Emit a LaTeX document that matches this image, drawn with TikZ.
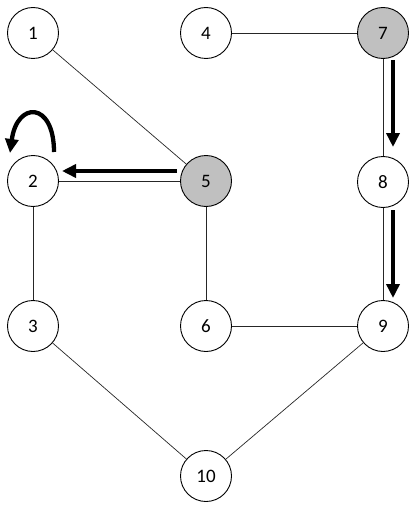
\documentclass[tikz,border=0pt]{standalone}
\usepackage{fontspec}
\setmainfont{Carlito}
\usetikzlibrary{arrows.meta}
\definecolor{shade}{HTML}{C0C0C0}
\tikzset{
  vertex/.style={circle, draw=black, line width=0.9pt, minimum size=51pt, inner sep=0pt, fill=white, font=\fontsize{19}{19}\selectfont},
  marked/.style={vertex, fill=shade},
  link/.style={draw=black!85, line width=0.7pt},
  flow/.style={line width=4.3pt, -{Triangle[length=14pt,width=13pt]}},
}
\begin{document}
\begin{tikzpicture}[x=1pt,y=-1pt]
\useasboundingbox (0,0) rectangle (409,508);
% vertices
\node[vertex] (n1) at (33,33) {1};
\node[vertex] (n4) at (206,33) {4};
\node[marked] (n7) at (383,33) {7};
\node[vertex] (n2) at (33,181) {2};
\node[marked] (n5) at (206,181) {5};
\node[vertex] (n8) at (383,182) {8};
\node[vertex] (n3) at (33,326) {3};
\node[vertex] (n6) at (206,326) {6};
\node[vertex] (n9) at (383,326) {9};
\node[vertex] (n10) at (206,476) {10};
% undirected edges
\draw[link] (n1) -- (n5);
\draw[link] (n4) -- (n7);
\draw[link] (n7) -- (n8);
\draw[link] (n8) -- (n9);
\draw[link] (n2) -- (n5);
\draw[link] (n2) -- (n3);
\draw[link] (n5) -- (n6);
\draw[link] (n6) -- (n9);
\draw[link] (n3) -- (n10);
\draw[link] (n9) -- (n10);
% anchor points for the moves
\coordinate (a5) at (177,171);
\coordinate (a2) at (62,171);
\coordinate (a7) at (393,60);
\coordinate (a8) at (393,147);
\coordinate (b8) at (393,210);
\coordinate (b9) at (393,298);
\coordinate (l1) at (54,152);
\coordinate (l2) at (10,153);
% moves
\draw[flow] (a5) -- (a2);
\draw[flow] (a7) -- (a8);
\draw[flow] (b8) -- (b9);
\draw[flow] (l1) .. controls (54,101) and (17,101) .. (l2);
\end{tikzpicture}
\end{document}
